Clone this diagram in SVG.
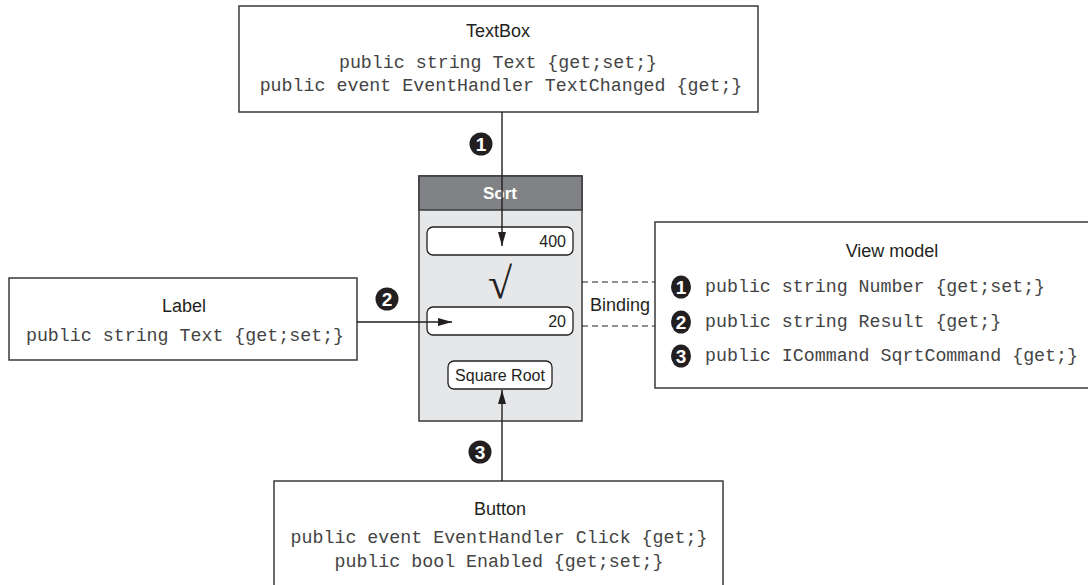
<svg xmlns="http://www.w3.org/2000/svg" width="1088" height="585" viewBox="0 0 1088 585">
<style>
.box{fill:#fff;stroke:#3a3a3a;stroke-width:1.5}
.title{font-family:"Liberation Sans",Arial,sans-serif;font-size:18px;fill:#231f20;text-anchor:middle}
.code{font-family:"Liberation Mono","Courier New",monospace;font-size:18.3px;fill:#444}
.mid{text-anchor:middle}
.ui{font-family:"Liberation Sans",Arial,sans-serif;font-size:16px;fill:#231f20}
.field{fill:#fff;stroke:#231f20;stroke-width:1.3}
.conn{stroke:#231f20;stroke-width:1.4;fill:none}
.dash{stroke:#231f20;stroke-width:1.2;stroke-dasharray:6 4;fill:none}
.num{fill:#231f20}
.numt{font-family:"Liberation Sans Narrow","Liberation Sans",Arial,sans-serif;font-weight:bold;font-size:19px;fill:#fff;text-anchor:middle}
</style>
<defs>
<marker id="arr" markerUnits="userSpaceOnUse" markerWidth="15" markerHeight="9" refX="14" refY="4" orient="auto">
<path d="M0,0 L14,4 L0,8 z" fill="#231f20"/>
</marker>
</defs>
<rect width="1088" height="585" fill="#fff"/>

<g id="textbox">
<rect class="box" x="239" y="6" width="519" height="106"/>
<text class="title" x="498" y="37">TextBox</text>
<text class="code mid" x="498" y="68">public string Text {get;set;}</text>
<text class="code mid" x="501" y="91">public event EventHandler TextChanged {get;}</text>
</g>

<g id="label">
<rect class="box" x="9" y="278" width="348" height="82"/>
<text class="title" x="184" y="312">Label</text>
<text class="code mid" x="185" y="341">public string Text {get;set;}</text>
</g>

<g id="button">
<rect class="box" x="274" y="481" width="449" height="120"/>
<text class="title" x="500" y="515">Button</text>
<text class="code mid" x="499" y="543">public event EventHandler Click {get;}</text>
<text class="code mid" x="499" y="567">public bool Enabled {get;set;}</text>
</g>

<g id="viewmodel">
<rect class="box" x="655" y="222" width="445" height="166"/>
<text class="title" x="892" y="257">View model</text>
<ellipse class="num" cx="681" cy="287" rx="10" ry="11.5"/>
<text class="numt" x="681" y="294">1</text>
<text class="code" x="705" y="292">public string Number {get;set;}</text>
<ellipse class="num" cx="681" cy="322" rx="10" ry="11.5"/>
<text class="numt" x="681" y="329">2</text>
<text class="code" x="705" y="327">public string Result {get;}</text>
<ellipse class="num" cx="681" cy="356" rx="10" ry="11.5"/>
<text class="numt" x="681" y="363">3</text>
<text class="code" x="705" y="361">public ICommand SqrtCommand {get;}</text>
</g>

<g id="sqrt-window">
<rect x="419" y="176" width="163" height="245" fill="#e6e7e8" stroke="#3a3a3a" stroke-width="1.5"/>
<rect x="419" y="176" width="163" height="34" fill="#808285" stroke="#3a3a3a" stroke-width="1.5"/>
<text class="ui" x="500" y="199" style="fill:#fff;font-weight:bold;font-size:17px;text-anchor:middle">Sort</text>
<rect class="field" x="427" y="227" width="146" height="28" rx="6"/>
<text class="ui" x="566" y="247" text-anchor="end">400</text>
<text x="500" y="298" style="font-family:'Liberation Serif','Times New Roman',serif;font-size:44px;fill:#231f20;text-anchor:middle">√</text>
<rect class="field" x="427" y="307" width="146" height="28" rx="6"/>
<text class="ui" x="566" y="327" text-anchor="end">20</text>
<rect class="field" x="448" y="361" width="104" height="28" rx="6"/>
<text class="ui" x="500" y="381" text-anchor="middle">Square Root</text>
</g>

<g id="connectors">
<line class="conn" x1="502" y1="112" x2="502" y2="246" marker-end="url(#arr)"/>
<line class="conn" x1="357" y1="322" x2="452" y2="322" marker-end="url(#arr)"/>
<line class="conn" x1="502" y1="481" x2="502" y2="390" marker-end="url(#arr)"/>
<line class="dash" x1="582" y1="282" x2="655" y2="282"/>
<line class="dash" x1="582" y1="326" x2="655" y2="326"/>
<text x="620" y="311" style="font-family:'Liberation Sans',Arial,sans-serif;font-size:18px;fill:#231f20;text-anchor:middle">Binding</text>
<circle class="num" cx="481" cy="144" r="11.5"/>
<text class="numt" x="481" y="151">1</text>
<circle class="num" cx="387" cy="299" r="11.5"/>
<text class="numt" x="387" y="306">2</text>
<circle class="num" cx="480" cy="452" r="11.5"/>
<text class="numt" x="480" y="459">3</text>
</g>
</svg>
